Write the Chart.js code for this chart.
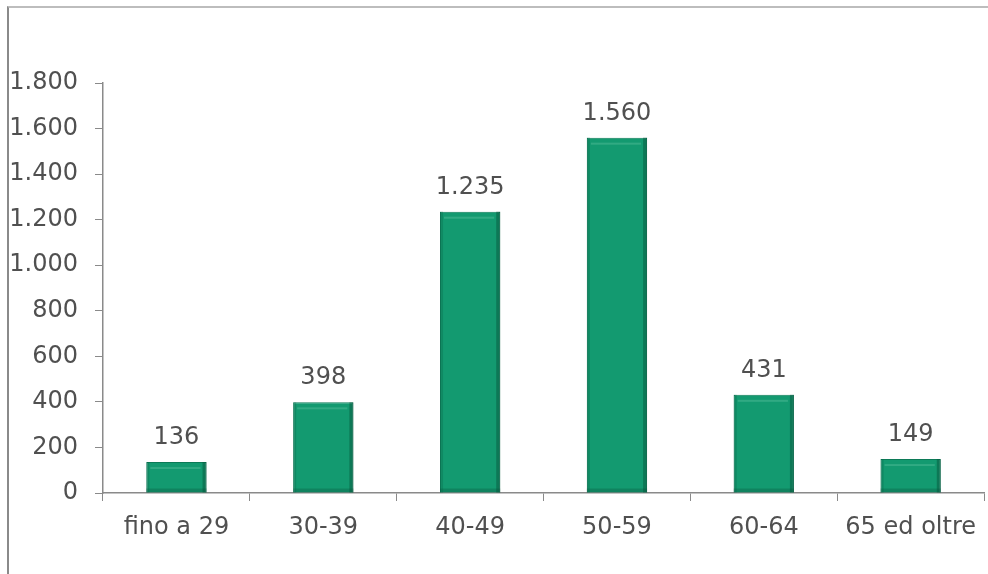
<!DOCTYPE html>
<html>
<head>
<meta charset="utf-8">
<script src="https://cdn.jsdelivr.net/npm/chart.js@4/dist/chart.umd.min.js"></script>
<style>
  html, body { margin: 0; padding: 0; background: #fff; }
  #wrap { position: relative; width: 988px; height: 574px; }
  #frame { position: absolute; left: 7px; top: 6px; width: 990px; height: 600px;
           border-left: 2px solid #8a8a8a; border-top: 2px solid #bdbdbd; box-sizing: border-box; }
  canvas { position: absolute; left: 0; top: 0; }
</style>
</head>
<body>
<div id="wrap">
  <div id="frame"></div>
  <canvas id="c" width="988" height="574"></canvas>
</div>
<script>
const categories = ["fino a 29", "30-39", "40-49", "50-59", "60-64", "65 ed oltre"];
const values = [136, 398, 1235, 1560, 431, 149];
const yTicks = [0, 200, 400, 600, 800, 1000, 1200, 1400, 1600, 1800];

function itNum(v) {
  const s = String(Math.round(v));
  return s.replace(/\B(?=(\d{3})+(?!\d))/g, '.');
}

const FONT = "'DejaVu Sans', sans-serif";
const TEXT = '#505050';

const labelPlugin = {
  id: 'valueLabels',
  afterDatasetsDraw(chart) {
    const ctx = chart.ctx;
    const meta = chart.getDatasetMeta(0);
    ctx.save();
    ctx.font = '24px ' + FONT;
    ctx.fillStyle = TEXT;
    ctx.textAlign = 'center';
    ctx.textBaseline = 'alphabetic';
    meta.data.forEach((bar, i) => {
      ctx.fillText(itNum(values[i]), bar.x, bar.y - 18);
    });
    ctx.restore();
  }
};

const bevelPlugin = {
  id: 'bevel',
  afterDatasetsDraw(chart) {
    const ctx = chart.ctx;
    const meta = chart.getDatasetMeta(0);
    ctx.save();
    meta.data.forEach(bar => {
      const l = bar.x - bar.width / 2, r = bar.x + bar.width / 2;
      const t = bar.y, b = bar.base;
      ctx.fillStyle = 'rgba(6,80,55,0.45)';
      ctx.fillRect(r - 4, t, 4, b - t);
      ctx.fillStyle = 'rgba(6,80,55,0.3)';
      ctx.fillRect(l, b - 4, r - l, 4);
      ctx.fillStyle = 'rgba(120,210,175,0.3)';
      ctx.fillRect(l + 4, t + 5, r - l - 10, 2);
      ctx.fillStyle = 'rgba(8,100,70,0.3)';
      ctx.fillRect(l, t, 3, b - t);
    });
    ctx.restore();
  }
};

new Chart(document.getElementById('c'), {
  type: 'bar',
  data: {
    labels: categories,
    datasets: [{
      data: values,
      backgroundColor: '#139a70',
      borderColor: '#0c7a57',
      borderWidth: 1,
      barPercentage: 0.82,
      categoryPercentage: 0.5
    }]
  },
  options: {
    responsive: false,
    animation: false,
    devicePixelRatio: 1,
    layout: { padding: { top: 83, right: 0, left: 0, bottom: 0 } },
    plugins: { legend: { display: false }, tooltip: { enabled: false } },
    scales: {
      x: {
        offset: true,
        grid: { display: true, drawOnChartArea: false, drawTicks: true, tickLength: 8, color: '#8a8a8a', offset: true },
        border: { display: true, color: '#8a8a8a', width: 1.5 },
        ticks: { font: { family: FONT, size: 24 }, color: TEXT, padding: 12, maxRotation: 0, autoSkip: false },
        afterFit(scale) { scale.height = 81; }
      },
      y: {
        min: 0, max: 1800,
        afterBuildTicks(scale) { scale.ticks = yTicks.map(v => ({ value: v })); },
        grid: { display: true, drawOnChartArea: false, drawTicks: true, tickLength: 8, color: '#8a8a8a' },
        border: { display: true, color: '#8a8a8a', width: 1.5 },
        ticks: { font: { family: FONT, size: 24 }, color: TEXT, padding: 17, callback: v => itNum(v) },
        afterFit(scale) { scale.width = 103; }
      }
    }
  },
  plugins: [labelPlugin, bevelPlugin]
});
</script>
</body>
</html>
